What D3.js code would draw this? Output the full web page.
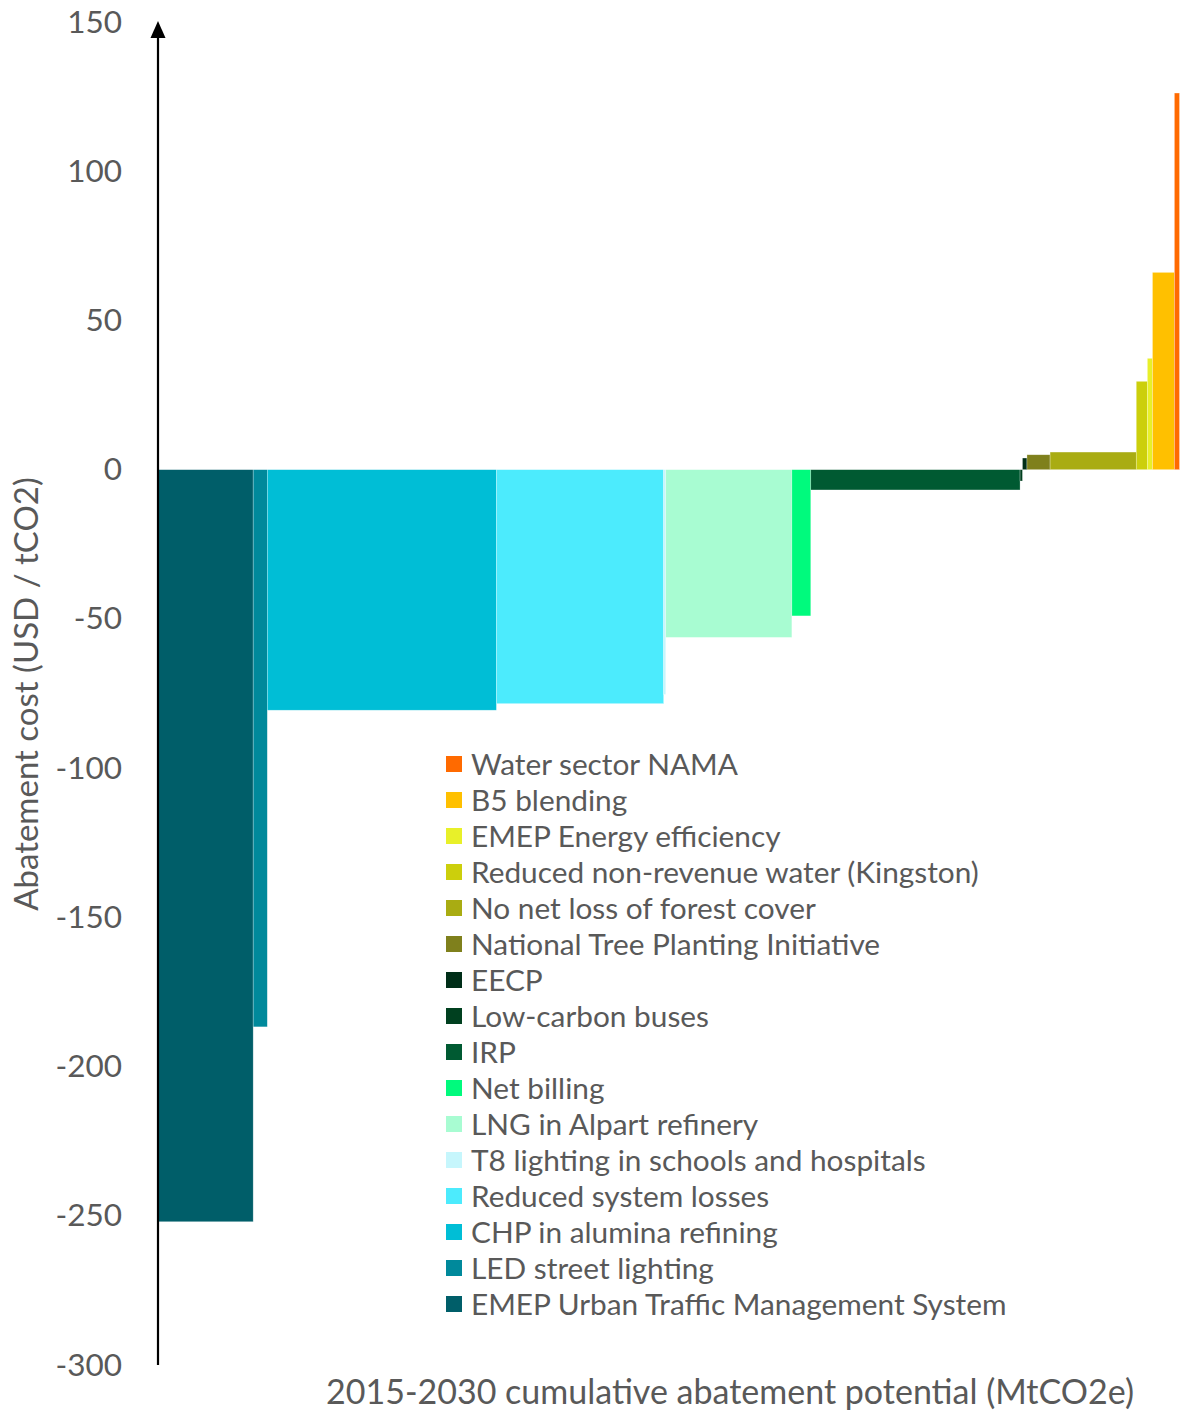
<!DOCTYPE html>
<html>
<head>
<meta charset="utf-8">
<script src="https://cdnjs.cloudflare.com/ajax/libs/d3/7.8.5/d3.min.js"></script>
<style>
  html, body { margin: 0; padding: 0; background: #fff; }
  svg { display: block; font-family: Lato, "Open Sans", sans-serif; }
</style>
</head>
<body>
<svg id="chart" width="1181" height="1414"></svg>
<script>
// Abatement measures, left to right along the cost curve
const measures = [
  "EMEP Urban Traffic Management System",
  "LED street lighting",
  "CHP in alumina refining",
  "Reduced system losses",
  "T8 lighting in schools and hospitals",
  "LNG in Alpart refinery",
  "Net billing",
  "IRP",
  "Low-carbon buses",
  "EECP",
  "National Tree Planting Initiative",
  "No net loss of forest cover",
  "Reduced non-revenue water (Kingston)",
  "EMEP Energy efficiency",
  "B5 blending",
  "Water sector NAMA"
];
// 2015-2030 cumulative abatement potential of each measure (MtCO2e)
const potential = [3.17, 0.47, 7.63, 5.57, 0.07, 4.2, 0.63, 6.97, 0.08, 0.15, 0.77, 2.87, 0.37, 0.17, 0.73, 0.17];
// Abatement cost (USD / tCO2)
const cost = [-252, -186.7, -80.6, -78.4, -75.3, -56.2, -49, -6.8, -3.8, 3.9, 5.0, 5.9, 29.6, 37.3, 66.1, 126.2];
const colors = ["#005e69", "#00899b", "#00bed6", "#4cebfd", "#c6f6fc", "#a8fcd2", "#00fa7d", "#005a32",
                "#00401f", "#002e18", "#7f801c", "#a9ac12", "#cccf0c", "#e8f029", "#ffc000", "#ff6a00"];
const yTicks = [150, 100, 50, 0, -50, -100, -150, -200, -250, -300];

const svg = d3.select("#chart");
const axisX = 158;

// cumulative start of each block
let acc = 0;
const blocks = measures.map((name, i) => {
  const b = { name, x0: acc, x1: acc + potential[i], cost: cost[i], color: colors[i] };
  acc += potential[i];
  return b;
});

const x = d3.scaleLinear().domain([0, acc]).range([axisX, 1179.5]);
const y = d3.scaleLinear().domain([-300, 150]).range([1365, 22]);

// blocks of the curve
svg.append("g").selectAll("rect").data(blocks).join("rect")
  .attr("x", d => x(d.x0))
  .attr("width", d => x(d.x1) - x(d.x0))
  .attr("y", d => y(Math.max(0, d.cost)))
  .attr("height", d => Math.abs(y(d.cost) - y(0)))
  .attr("fill", d => d.color)
  .attr("stroke", "#ffffff")
  .attr("stroke-opacity", 0.45)
  .attr("stroke-width", 0.6);

// y tick labels (plain hyphen for negatives)
const yAxis = d3.axisLeft(y).tickValues(yTicks).tickSize(0).tickPadding(36).tickFormat(d => String(d));
const gy = svg.append("g").attr("transform", `translate(${axisX},0)`).call(yAxis);
gy.select(".domain").remove();
gy.selectAll("text").attr("fill", "#595959").attr("font-size", 31.5).attr("font-family", "Lato, sans-serif");

// vertical axis with arrow head
svg.append("line")
  .attr("x1", axisX).attr("x2", axisX)
  .attr("y1", y(-300)).attr("y2", 34)
  .attr("stroke", "#000").attr("stroke-width", 2.2);
svg.append("path")
  .attr("d", `M${axisX},21 L${axisX - 7.5},38 L${axisX + 7.5},38 Z`)
  .attr("fill", "#000");

// axis titles
svg.append("text")
  .attr("transform", `translate(38,${694}) rotate(-90)`)
  .attr("text-anchor", "middle")
  .attr("fill", "#595959")
  .attr("font-size", 33)
  .text("Abatement cost (USD / tCO2)");

svg.append("text")
  .attr("x", 730).attr("y", 1404)
  .attr("text-anchor", "middle")
  .attr("fill", "#595959")
  .attr("font-size", 34)
  .text("2015-2030 cumulative abatement potential (MtCO2e)");

// legend (last measure on top)
const legendItems = blocks.slice().reverse();
const legend = svg.append("g").attr("transform", "translate(446,0)");
const rowY = i => 764 + i * 36;
legend.selectAll("rect").data(legendItems).join("rect")
  .attr("x", 0).attr("y", (d, i) => rowY(i) - 8)
  .attr("width", 16).attr("height", 16)
  .attr("fill", d => d.color);
legend.selectAll("text").data(legendItems).join("text")
  .attr("x", 25).attr("y", (d, i) => rowY(i))
  .attr("dy", "0.36em")
  .attr("fill", "#595959")
  .attr("font-size", 29.8)
  .text(d => d.name);
</script>
</body>
</html>
